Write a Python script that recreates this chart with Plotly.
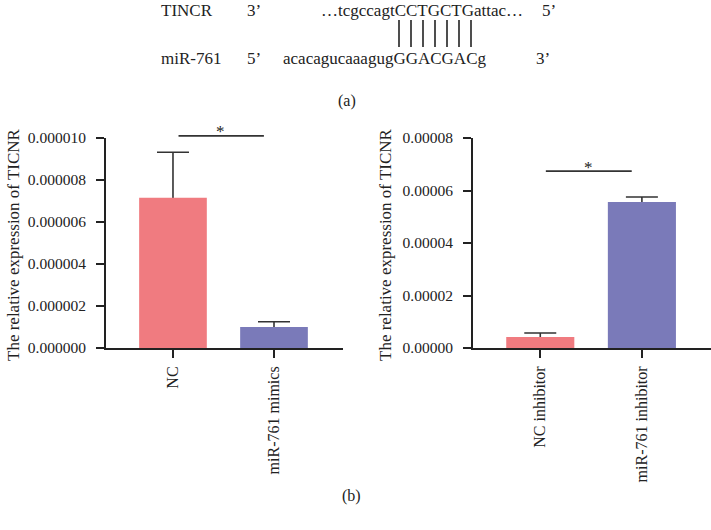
import plotly.graph_objects as go

# ---- data ----
left_categories = ["NC", "miR-761 mimics"]
left_values = [7.15e-6, 1.0e-6]
left_errors = [2.17e-6, 0.25e-6]

right_categories = ["NC inhibitor", "miR-761 inhibitor"]
right_values = [4.2e-6, 55.6e-6]
right_errors = [1.5e-6, 1.9e-6]

left_ymax = 1e-5
right_ymax = 8e-5
left_sig_level = 10.1e-6
right_sig_level = 67.4e-6

bar_colors = ["#F07B80", "#7A7AB9"]
y_title = "The relative expression of TICNR"

W, H = 711, 530
FONT = "Liberation Serif, Times New Roman, serif"
INK = "#222222"


def px(x):
    return x / W


def py(y):
    return 1 - y / H


fig = go.Figure()

for cats, vals, errs, xa, ya in ((left_categories, left_values, left_errors, "x", "y"),
                                 (right_categories, right_values, right_errors, "x2", "y2")):
    # error bars (lower half hidden behind the opaque bar drawn afterwards)
    fig.add_trace(go.Bar(
        x=cats, y=vals, width=0.67,
        marker=dict(color="rgba(0,0,0,0)", line=dict(width=0)),
        error_y=dict(type="data", array=errs, color="#333333", thickness=1.6, width=16),
        xaxis=xa, yaxis=ya, showlegend=False, hoverinfo="skip",
    ))
    fig.add_trace(go.Bar(
        x=cats, y=vals, width=0.67,
        marker=dict(color=bar_colors, line=dict(width=0)),
        xaxis=xa, yaxis=ya, showlegend=False,
    ))

ydom = [py(348), py(138)]
axis_common = dict(showgrid=False, zeroline=False, showline=True, linecolor=INK, linewidth=2,
                   ticks="outside", ticklen=8, tickwidth=1.6, tickcolor=INK, automargin=False)
xfont = dict(family=FONT, size=16, color=INK)
yfont = dict(family=FONT, size=15.5, color=INK)

fig.update_layout(
    width=W, height=H,
    margin=dict(l=0, r=0, t=0, b=0, autoexpand=False),
    paper_bgcolor="white", plot_bgcolor="white",
    barmode="overlay",
    xaxis=dict(domain=[px(106), px(343)], anchor="y", type="category",
               range=[-0.663, 1.683], tickangle=-90, ticklabelstandoff=2,
               tickfont=xfont, **axis_common),
    yaxis=dict(domain=ydom, anchor="x", range=[0, left_ymax], dtick=2e-6,
               tickformat=".6f", ticklabelstandoff=7, tickfont=yfont, **axis_common),
    xaxis2=dict(domain=[px(473), px(711)], anchor="y2", type="category",
                range=[-0.662, 1.68], tickangle=-90, ticklabelstandoff=2,
                tickfont=xfont, **axis_common),
    yaxis2=dict(domain=ydom, anchor="x2", range=[0, right_ymax], dtick=2e-5,
                tickformat=".5f", ticklabelstandoff=7, tickfont=yfont, **axis_common),
)

annotations = []

# significance brackets
for xr, yr, lvl, ymax in (("x", "y", left_sig_level, left_ymax),
                          ("x2", "y2", right_sig_level, right_ymax)):
    yd = yr + " domain"
    annotations.append(dict(x=0.9, y=lvl / ymax, xref=xr, yref=yd,
                            ax=0.04, ay=lvl / ymax, axref=xr, ayref=yd,
                            showarrow=True, arrowhead=0, arrowwidth=1.6, arrowcolor="#333333",
                            text=""))
    annotations.append(dict(x=0.47, y=lvl / ymax, xref=xr, yref=yd, text="*", showarrow=False,
                            yanchor="middle", yshift=4,
                            font=dict(family=FONT, size=17, color=INK)))

# y axis titles
for xp in (13, 385):
    annotations.append(dict(x=px(xp), y=py(245), xref="paper", yref="paper", text=y_title,
                            textangle=-90, showarrow=False, xanchor="center", yanchor="middle",
                            font=dict(family=FONT, size=17, color=INK)))

# sequence alignment panel (a)
seq_font = dict(family=FONT, size=17, color=INK)
top_texts = [
    ("TINCR", 160, 0), ("3’", 246, 0), ("…tcgccagtCCTGCTGattac…", 320, 0), ("5’", 541, 0),
    ("miR-761", 160, 59), ("5’", 246, 59), ("acacagucaaagugGGACGACg", 282, 59), ("3’", 535, 59),
]
for t, x, y in top_texts:
    annotations.append(dict(x=px(x), y=py(y), xref="paper", yref="paper", text=t,
                            showarrow=False, xanchor="left",
                            yanchor="top" if y == 0 else "middle", borderpad=0, font=seq_font))

annotations.append(dict(x=px(347), y=py(90), xref="paper", yref="paper", text="(a)",
                        showarrow=False, font=dict(family=FONT, size=16, color=INK)))
annotations.append(dict(x=px(351), y=py(507), xref="paper", yref="paper", text="(b)",
                        showarrow=False, font=dict(family=FONT, size=16, color=INK)))

fig.update_layout(annotations=annotations)

shapes = []
for i in range(7):
    xx = px(399 + 12 * i)
    shapes.append(dict(type="line", xref="paper", yref="paper", x0=xx, x1=xx,
                       y0=py(20), y1=py(47), line=dict(color=INK, width=1.6)))
fig.update_layout(shapes=shapes)

fig.write_html("out.html", config={"displayModeBar": False},
               post_script="document.body.style.margin='0';document.body.style.overflow='hidden';")
